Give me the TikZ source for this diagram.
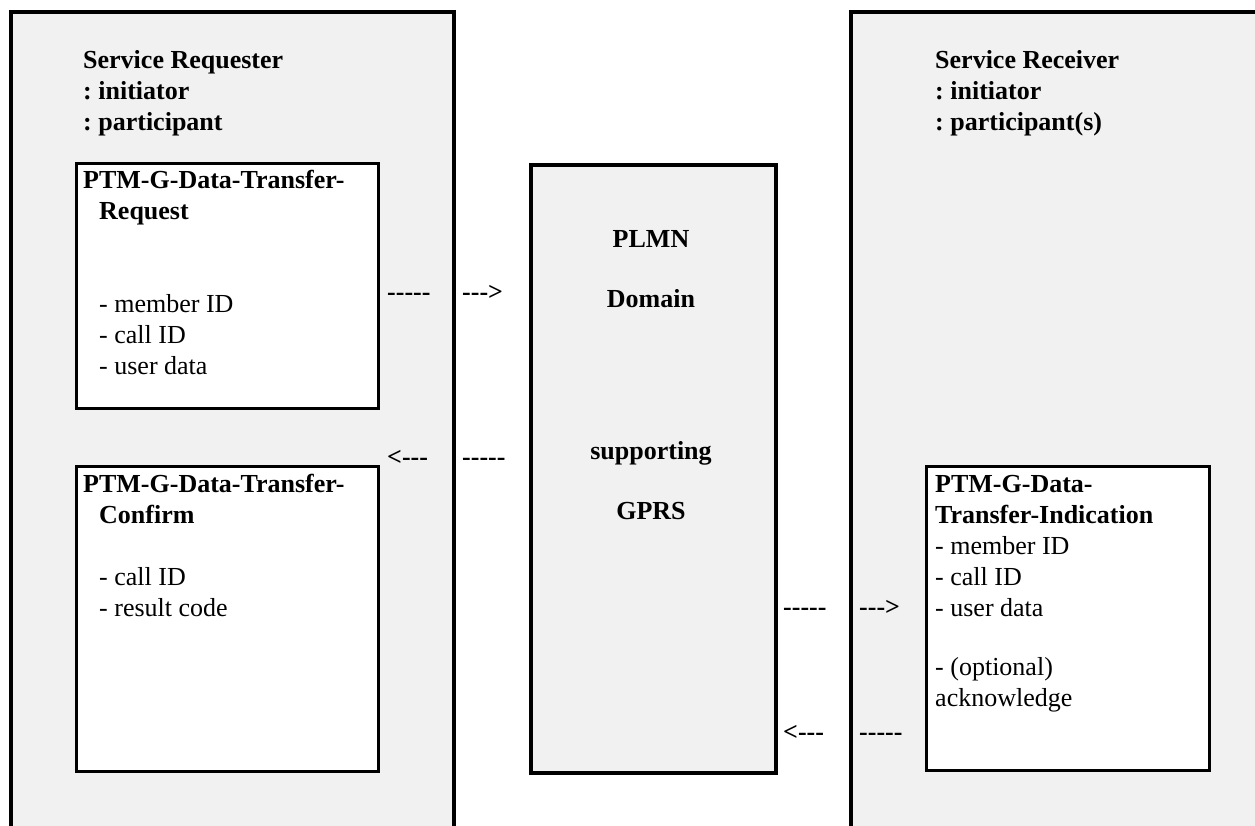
\documentclass[tikz,border=0pt]{standalone}
\usepackage{fontspec}
\setmainfont{Liberation Serif}
\definecolor{panel}{HTML}{F1F1F1}
\begin{document}
\frenchspacing
\begin{tikzpicture}[x=1pt,y=-1pt,
  bigbox/.style={draw=black, line width=4pt, fill=panel, anchor=north west, inner sep=0pt},
  innerbox/.style={draw=black, line width=2.5pt, fill=white, anchor=north west, inner sep=0pt},
  txt/.style={font=\fontsize{26}{31}\selectfont\frenchspacing, inner sep=0pt, anchor=base west},
  ctxt/.style={font=\fontsize{26}{31}\selectfont\bfseries, inner sep=0pt, anchor=base},
  dashtxt/.style={font=\fontsize{26}{31}\selectfont\bfseries, inner sep=0pt, anchor=base west}
]
\useasboundingbox (0,0) rectangle (1255,825);
\clip (0,0) rectangle (1255,825);

% big panels
\node[bigbox, minimum width=443pt, minimum height=900pt] (requester) at (9,10) {};
\node[bigbox, minimum width=500pt, minimum height=900pt] (receiver) at (849,10) {};
\node[bigbox, minimum width=245pt, minimum height=608pt] (plmn) at (529,163) {};

% inner boxes
\node[innerbox, minimum width=302pt, minimum height=245pt] (reqbox) at (75,162) {};
\node[innerbox, minimum width=302pt, minimum height=305pt] (confbox) at (75,465) {};
\node[innerbox, minimum width=283pt, minimum height=304pt] (indbox) at (925,465) {};

% headers
\node[txt] (reqhdr) at (83,68) {\begin{tabular}[t]{@{}l@{}}\textbf{Service Requester}\\ \textbf{: initiator}\\ \textbf{: participant}\end{tabular}};
\node[txt] (rechdr) at (935,68) {\begin{tabular}[t]{@{}l@{}}\textbf{Service Receiver}\\ \textbf{: initiator}\\ \textbf{: participant(s)}\end{tabular}};

% inner box texts
\node[txt] (reqtxt) at (83,188) {\begin{tabular}[t]{@{}l@{}}\textbf{PTM-G-Data-Transfer-}\\ \hspace*{16pt}\textbf{Request}\\ \\ \\ \hspace*{16pt}- member ID\\ \hspace*{16pt}- call ID\\ \hspace*{16pt}- user data\end{tabular}};
\node[txt] (conftxt) at (83,492) {\begin{tabular}[t]{@{}l@{}}\textbf{PTM-G-Data-Transfer-}\\ \hspace*{16pt}\textbf{Confirm}\\ \\ \hspace*{16pt}- call ID\\ \hspace*{16pt}- result code\end{tabular}};
\node[txt] (indtxt) at (935,492) {\begin{tabular}[t]{@{}l@{}}\textbf{PTM-G-Data-}\\ \textbf{Transfer-Indication}\\ - member ID\\ - call ID\\ - user data\\[28pt] - (optional)\\ acknowledge\end{tabular}};

% middle texts
\node[ctxt] (t1) at (651,247) {PLMN};
\node[ctxt] (t2) at (651,307) {Domain};
\node[ctxt] (t3) at (651,459) {supporting};
\node[ctxt] (t4) at (651,519) {GPRS};

% dashed "arrows" as text
\node[dashtxt] (a1) at (387,300) {-{}-{}-{}-{}-};
\node[dashtxt] (a2) at (462,300) {-{}-{}->};
\node[dashtxt] (a3) at (387,465) {<-{}-{}-};
\node[dashtxt] (a4) at (462,465) {-{}-{}-{}-{}-};
\node[dashtxt] (a5) at (783,615) {-{}-{}-{}-{}-};
\node[dashtxt] (a6) at (859,615) {-{}-{}->};
\node[dashtxt] (a7) at (783,740) {<-{}-{}-};
\node[dashtxt] (a8) at (859,740) {-{}-{}-{}-{}-};
\end{tikzpicture}
\end{document}
